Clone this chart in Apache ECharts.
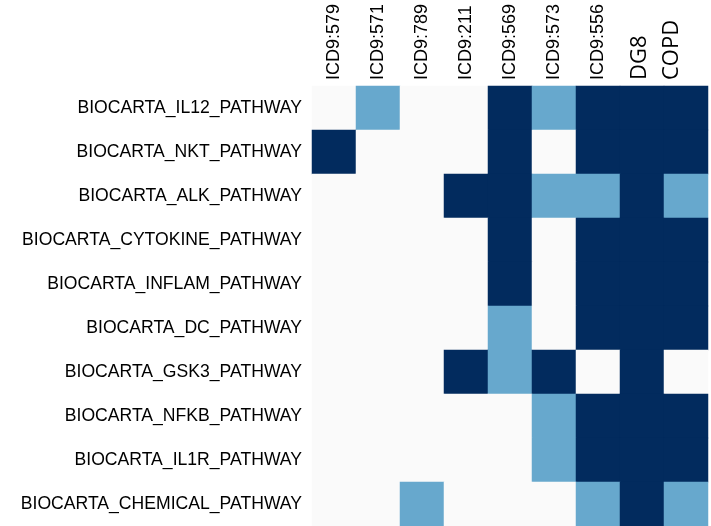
<!DOCTYPE html>
<html>
<head>
<meta charset="utf-8">
<script src="https://cdn.jsdelivr.net/npm/echarts@6/dist/echarts.min.js"></script>
<style>
  html, body { margin: 0; padding: 0; background: #ffffff; }
  #chart { width: 711px; height: 526px; }
</style>
</head>
<body>
<div id="chart"></div>
<script>
  // columns (top axis)
  const columns = ['ICD9:579', 'ICD9:571', 'ICD9:789', 'ICD9:211', 'ICD9:569', 'ICD9:573', 'ICD9:556', 'DG8', 'COPD']
  // rows (left axis), top to bottom
  const pathways = [
    'BIOCARTA_IL12_PATHWAY',
    'BIOCARTA_NKT_PATHWAY',
    'BIOCARTA_ALK_PATHWAY',
    'BIOCARTA_CYTOKINE_PATHWAY',
    'BIOCARTA_INFLAM_PATHWAY',
    'BIOCARTA_DC_PATHWAY',
    'BIOCARTA_GSK3_PATHWAY',
    'BIOCARTA_NFKB_PATHWAY',
    'BIOCARTA_IL1R_PATHWAY',
    'BIOCARTA_CHEMICAL_PATHWAY'
  ]
  // 0 = none, 1 = light, 2 = dark ; one list per pathway, in column order
  const il12     = [0, 1, 0, 0, 2, 1, 2, 2, 2]
  const nkt      = [2, 0, 0, 0, 2, 0, 2, 2, 2]
  const alk      = [0, 0, 0, 2, 2, 1, 1, 2, 1]
  const cytokine = [0, 0, 0, 0, 2, 0, 2, 2, 2]
  const inflam   = [0, 0, 0, 0, 2, 0, 2, 2, 2]
  const dc       = [0, 0, 0, 0, 1, 0, 2, 2, 2]
  const gsk3     = [0, 0, 0, 2, 1, 2, 0, 2, 0]
  const nfkb     = [0, 0, 0, 0, 0, 1, 2, 2, 2]
  const il1r     = [0, 0, 0, 0, 0, 1, 2, 2, 2]
  const chemical = [0, 0, 1, 0, 0, 0, 1, 2, 1]

  const rows = [il12, nkt, alk, cytokine, inflam, dc, gsk3, nfkb, il1r, chemical]

  const cells = []
  rows.forEach((r, y) => {
    r.forEach((v, x) => {
      cells.push([x, y, v])
    })
  })

  const chart = echarts.init(document.getElementById('chart'))
  chart.setOption({
    animation: false,
    backgroundColor: '#ffffff',
    grid: {
      left: 312,
      top: 86,
      width: 396,
      height: 440
    },
    xAxis: {
      type: 'category',
      position: 'top',
      data: columns,
      axisLine: { show: false },
      axisTick: { show: false },
      splitLine: { show: false },
      axisLabel: {
        rotate: -90,
        margin: 6,
        interval: 0,
        color: '#000000',
        fontFamily: 'Liberation Sans',
        fontSize: 18,
        formatter: function (val) {
          if (val === 'DG8') return '{dg|' + val + '}'
          if (val === 'COPD') return '{copd|' + val + '}'
          return val
        },
        rich: {
          // the two big labels sit left of their column centres in the reference
          dg: {
            fontFamily: 'Open Sans',
            fontSize: 22,
            color: '#000000',
            padding: [0, 0, 4, 0]
          },
          copd: {
            fontFamily: 'Open Sans',
            fontSize: 22,
            color: '#000000',
            padding: [0, 0, 28, 0]
          }
        }
      }
    },
    yAxis: {
      type: 'category',
      inverse: true,
      data: pathways,
      axisLine: { show: false },
      axisTick: { show: false },
      splitLine: { show: false },
      axisLabel: {
        margin: 10,
        interval: 0,
        color: '#000000',
        fontFamily: 'Liberation Sans',
        fontSize: 17.6
      }
    },
    visualMap: {
      show: false,
      type: 'piecewise',
      dimension: 2,
      pieces: [
        { value: 0, color: '#fafafa' },
        { value: 1, color: '#67a8cd' },
        { value: 2, color: '#022b5e' }
      ]
    },
    series: [{
      type: 'heatmap',
      data: cells,
      itemStyle: { borderWidth: 0 },
      emphasis: { disabled: true }
    }]
  })
</script>
</body>
</html>
